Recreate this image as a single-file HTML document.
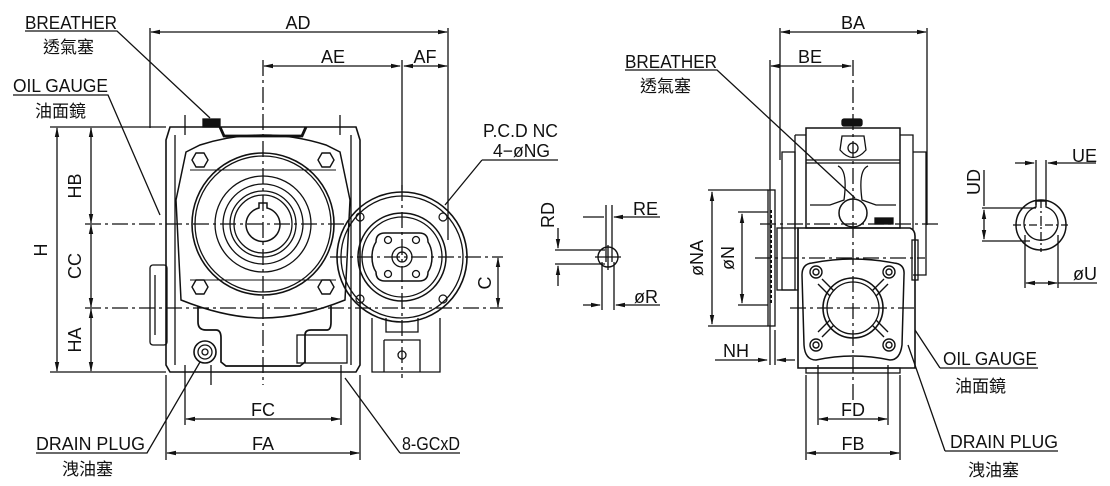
<!DOCTYPE html>
<html><head><meta charset="utf-8"><style>
html,body{margin:0;padding:0;background:#fff}
svg{display:block}
text{font-family:"Liberation Sans","Noto Sans CJK TC",sans-serif;fill:#111}
.t{font-size:18px}
.c{font-size:17px}
</style></head><body>
<svg width="1110" height="486" viewBox="0 0 1110 486" xmlns="http://www.w3.org/2000/svg">
<defs>
<marker id="a" markerWidth="10" markerHeight="6" refX="9" refY="3" orient="auto-start-reverse" markerUnits="userSpaceOnUse"><path d="M0,0.8 L10,3 L0,5.2z" fill="#111"/></marker>
</defs>
<g stroke="#111" stroke-width="1.3" fill="none">
<line x1="150" y1="28" x2="150" y2="128"/>
<line x1="448" y1="28" x2="448" y2="240"/>
<line x1="402" y1="60" x2="402" y2="190"/>
<line x1="151" y1="32" x2="447" y2="32" marker-start="url(#a)" marker-end="url(#a)"/>
<line x1="264" y1="66" x2="400" y2="66" marker-start="url(#a)" marker-end="url(#a)"/>
<line x1="404" y1="66" x2="447" y2="66" marker-start="url(#a)" marker-end="url(#a)"/>
<line x1="50" y1="127" x2="166" y2="127"/>
<line x1="50" y1="372" x2="166" y2="372"/>
<line x1="57" y1="128" x2="57" y2="371" marker-start="url(#a)" marker-end="url(#a)"/>
<line x1="91" y1="128" x2="91" y2="223" marker-start="url(#a)" marker-end="url(#a)"/>
<line x1="91" y1="225" x2="91" y2="307" marker-start="url(#a)" marker-end="url(#a)"/>
<line x1="91" y1="309" x2="91" y2="371" marker-start="url(#a)" marker-end="url(#a)"/>
<line x1="85" y1="224" x2="350" y2="224" stroke-dasharray="16,4,3,4"/>
<line x1="85" y1="308" x2="503" y2="308" stroke-dasharray="16,4,3,4"/>
<line x1="330" y1="257" x2="503" y2="257" stroke-dasharray="16,4,3,4"/>
<line x1="263" y1="60" x2="263" y2="385" stroke-dasharray="16,4,3,4"/>
<line x1="402" y1="185" x2="402" y2="378" stroke-dasharray="16,4,3,4"/>
<line x1="498" y1="258" x2="498" y2="307" marker-start="url(#a)" marker-end="url(#a)"/>
<path d="M170,127 L356,127 L360,140 L360,365 L356,372 L170,372 L166,365 L166,140 Z" stroke-width="1.6"/>
<path d="M175,135 L175,365 M351,135 L351,365"/>
<path d="M220,127 L224,136 L302,136 L306,127" stroke-width="2.8"/>
<rect x="203" y="119" width="17" height="8" fill="#111"/>
<path d="M186,152 L200,145 Q263,125 326,145 L340,152 L350,200 L345,300 Q300,318 263,318 Q226,318 181,300 L176,200 Z" stroke-width="1.5"/>
<path d="M190,170 L336,170 M190,280 L336,280" stroke-width="1"/>
<circle cx="263" cy="224" r="71" stroke-width="1.6"/>
<circle cx="263" cy="224" r="68"/>
<circle cx="263" cy="224" r="48"/>
<circle cx="263" cy="224" r="40"/>
<circle cx="263" cy="224" r="33"/>
<circle cx="263" cy="224" r="29"/>
<path d="M259,208 L259,203 L267,203 L267,208 A17,17 0 1 1 259,208 Z" stroke-width="1.5"/>
<g stroke-width="1.4">
<polygon points="192,160 196,153 204,153 208,160 204,167 196,167"/>
<polygon points="318,160 322,153 330,153 334,160 330,167 322,167"/>
<polygon points="192,287 196,280 204,280 208,287 204,294 196,294"/>
<polygon points="318,287 322,280 330,280 334,287 330,294 322,294"/>
</g>
<path d="M198,306 L198,322 Q198,330 206,330 L216,330 Q221,330 221,338 L221,362 L226,366 L300,366 L305,362 L305,335 Q305,330 311,330 L327,330 Q331,330 331,322 L331,306" stroke-width="1.7"/>
<rect x="297" y="335" width="50" height="28"/>
<circle cx="205" cy="352" r="11" stroke-width="1.6"/>
<circle cx="205" cy="352" r="7"/>
<circle cx="205" cy="352" r="3"/>
<rect x="150" y="265" width="17" height="80" rx="3"/>
<path d="M155,275 L155,335"/>
<path d="M185,115 L185,135 M340,115 L340,135 M185,365 L185,385 M211,365 L211,385 M341,365 L341,385"/>
<circle cx="402" cy="257" r="65" stroke-width="1.6"/>
<circle cx="402" cy="257" r="61"/>
<circle cx="402" cy="257" r="44" stroke-width="1.5"/>
<circle cx="402" cy="257" r="40"/>
<path d="M385,233 L419,233 Q428,233 428,242 Q432,248 432,257 Q432,266 428,272 Q428,281 419,281 L385,281 Q376,281 376,272 Q372,266 372,257 Q372,248 376,242 Q376,233 385,233 Z" stroke-width="1.5"/>
<circle cx="388" cy="240" r="3.5"/><circle cx="416" cy="240" r="3.5"/>
<circle cx="388" cy="274" r="3.5"/><circle cx="416" cy="274" r="3.5"/>
<circle cx="402" cy="257" r="10"/><circle cx="402" cy="257" r="5"/>
<g stroke-width="1.2"><circle cx="360" cy="217" r="4"/><circle cx="443" cy="217" r="4"/><circle cx="360" cy="299" r="4"/><circle cx="443" cy="299" r="4"/></g>
<path d="M372,318 L372,372 L440,372 L440,318 M386,318 L386,332 L418,332 L418,318 M384,340 L420,340 L420,372 M384,340 L384,372"/>
<circle cx="402" cy="355" r="4"/>
<line x1="166" y1="375" x2="166" y2="460"/>
<line x1="360" y1="375" x2="360" y2="460"/>
<line x1="185" y1="385" x2="185" y2="425"/>
<line x1="341" y1="385" x2="341" y2="425"/>
<line x1="186" y1="419" x2="340" y2="419" marker-start="url(#a)" marker-end="url(#a)"/>
<line x1="167" y1="453" x2="359" y2="453" marker-start="url(#a)" marker-end="url(#a)"/>
<path d="M25,31 L117,31 L210,118"/>
<path d="M13,95 L108,95 L160,215"/>
<path d="M36,453 L147,453 L200,362"/>
<path d="M400,453 L460,453 M400,453 L345,378"/>
<path d="M482,160 L558,160 M482,160 L445,205"/>
<path d="M583,217 L604,217 M660,217 L614,217" marker-end="url(#a)"/>
<line x1="606" y1="205" x2="606" y2="262"/><line x1="612" y1="205" x2="612" y2="262"/>
<circle cx="608" cy="257" r="10" stroke-width="1.4"/>
<path d="M595,257 L621,257 M608,245 L608,270"/>
<line x1="555" y1="250" x2="605" y2="250"/><line x1="555" y1="264" x2="605" y2="264"/>
<path d="M558,228 L558,248" marker-end="url(#a)"/><path d="M558,286 L558,266" marker-end="url(#a)"/>
<line x1="602" y1="262" x2="602" y2="310"/><line x1="614" y1="262" x2="614" y2="310"/>
<path d="M583,305 L600,305" marker-end="url(#a)"/><path d="M660,305 L616,305" marker-end="url(#a)"/>
<line x1="780" y1="28" x2="780" y2="160"/>
<line x1="927" y1="28" x2="927" y2="225"/>
<line x1="770" y1="60" x2="770" y2="365"/>
<line x1="781" y1="32" x2="926" y2="32" marker-start="url(#a)" marker-end="url(#a)"/>
<line x1="771" y1="66" x2="851" y2="66" marker-start="url(#a)" marker-end="url(#a)"/>
<line x1="853" y1="60" x2="853" y2="400" stroke-dasharray="16,4,3,4"/>
<line x1="760" y1="224" x2="940" y2="224" stroke-dasharray="16,4,3,4"/>
<line x1="755" y1="258" x2="925" y2="258" stroke-dasharray="16,4,3,4"/>
<line x1="790" y1="308" x2="915" y2="308" stroke-dasharray="16,4,3,4"/>
<rect x="842" y="119" width="20" height="7" rx="2" fill="#111"/>
<rect x="806" y="128" width="94" height="100" stroke-width="1.5"/>
<path d="M795,135 L806,135 M795,135 L795,230 M900,135 L913,135 L913,230"/>
<path d="M782,152 L795,152 L795,290 L782,290 Z M913,152 L926,152 L926,275 L913,275"/>
<path d="M806,160 L900,160 M806,163 L900,163"/>
<path d="M842,136 L864,136 L866,150 Q853,165 840,150 Z"/>
<circle cx="853" cy="148" r="5"/>
<path d="M838,166 Q848,170 844,200 L830,205 L810,205 M868,166 Q858,170 862,200 L876,205 L896,205"/>
<circle cx="853" cy="213" r="14" stroke-width="1.5"/>
<rect x="875" y="218" width="18" height="6" fill="#111"/>
<rect x="768" y="190" width="7" height="136"/>
<line x1="771" y1="210" x2="771" y2="305" stroke-dasharray="3,2" stroke-width="2"/>
<rect x="777" y="228" width="21" height="62"/>
<path d="M708,190 L768,190 M708,326 L768,326 M738,212 L768,212 M738,305 L768,305"/>
<line x1="712" y1="192" x2="712" y2="324" marker-start="url(#a)" marker-end="url(#a)"/>
<line x1="742" y1="214" x2="742" y2="303" marker-start="url(#a)" marker-end="url(#a)"/>
<path d="M798,228 L910,228 Q915,230 915,236 L915,368 L798,368 Z" stroke-width="1.6"/>
<rect x="806" y="368" width="94" height="5"/>
<rect x="912" y="240" width="6" height="40"/>
<path d="M812,263 Q853,255 894,263 Q905,264 904,275 L902,345 Q900,360 890,360 Q853,352 816,360 Q805,360 804,345 L802,275 Q802,264 812,263 Z" stroke-width="1.5"/>
<circle cx="853" cy="308" r="30" stroke-width="1.6"/>
<circle cx="853" cy="308" r="26"/>
<path d="M822,279 L834,291 M884,279 L872,291 M822,337 L834,325 M884,337 L872,325 M818,284 L830,296 M888,284 L876,296 M818,332 L830,320 M888,332 L876,320" stroke-width="1.4"/>
<g stroke-width="1.4"><circle cx="816" cy="272" r="6"/><circle cx="889" cy="272" r="6"/><circle cx="816" cy="345" r="6"/><circle cx="889" cy="345" r="6"/>
<circle cx="816" cy="272" r="3"/><circle cx="889" cy="272" r="3"/><circle cx="816" cy="345" r="3"/><circle cx="889" cy="345" r="3"/></g>
<line x1="775" y1="330" x2="775" y2="365"/>
<path d="M715,360 L767,360" marker-end="url(#a)"/><path d="M795,360 L777,360" marker-end="url(#a)"/>
<line x1="806" y1="375" x2="806" y2="460"/><line x1="900" y1="375" x2="900" y2="460"/>
<line x1="818" y1="365" x2="818" y2="425"/><line x1="888" y1="365" x2="888" y2="425"/>
<line x1="819" y1="419" x2="887" y2="419" marker-start="url(#a)" marker-end="url(#a)"/>
<line x1="807" y1="453" x2="899" y2="453" marker-start="url(#a)" marker-end="url(#a)"/>
<path d="M625,70 L717,70 L855,198"/>
<path d="M940,368 L1038,368 M940,368 L915,330"/>
<path d="M945,451 L1058,451 M945,451 L908,345"/>
<circle cx="1041" cy="225" r="25" stroke-width="1.5"/>
<path d="M1036,207 L1036,201 L1046,201 L1046,207 A17,17 0 1 1 1036,207 Z" stroke-width="1.4"/>
<path d="M1013,225 L1068,225 M1041,200 L1041,252" stroke-dasharray="8,3,2,3"/>
<line x1="1036" y1="160" x2="1036" y2="205"/><line x1="1046" y1="160" x2="1046" y2="205"/>
<path d="M1015,163 L1034,163" marker-end="url(#a)"/><path d="M1096,163 L1048,163" marker-end="url(#a)"/>
<line x1="982" y1="208" x2="1036" y2="208"/><line x1="982" y1="241" x2="1030" y2="241"/>
<line x1="984" y1="170" x2="984" y2="206"/>
<line x1="984" y1="210" x2="984" y2="239" marker-start="url(#a)" marker-end="url(#a)"/>
<line x1="1025" y1="235" x2="1025" y2="288"/><line x1="1058" y1="235" x2="1058" y2="288"/>
<path d="M1026,283 L1057,283" marker-start="url(#a)" marker-end="url(#a)"/>
<line x1="1058" y1="283" x2="1097" y2="283"/>
</g>
<g class="t">
<text x="25" y="29" textLength="92" lengthAdjust="spacingAndGlyphs">BREATHER</text>
<text x="13" y="92" textLength="95" lengthAdjust="spacingAndGlyphs">OIL GAUGE</text>
<text x="36" y="450" textLength="109" lengthAdjust="spacingAndGlyphs">DRAIN PLUG</text>
<text x="402" y="450" textLength="58" lengthAdjust="spacingAndGlyphs">8-GCxD</text>
<text x="298" y="29" text-anchor="middle">AD</text>
<text x="333" y="63" text-anchor="middle">AE</text>
<text x="425" y="63" text-anchor="middle">AF</text>
<text x="263" y="416" text-anchor="middle">FC</text>
<text x="263" y="450" text-anchor="middle">FA</text>
<text x="483" y="137" textLength="75" lengthAdjust="spacingAndGlyphs">P.C.D NC</text>
<text x="493" y="157" textLength="57" lengthAdjust="spacingAndGlyphs">4−øNG</text>
<text x="633" y="215">RE</text>
<text x="634" y="303">øR</text>
<text x="853" y="29" text-anchor="middle">BA</text>
<text x="810" y="63" text-anchor="middle">BE</text>
<text x="625" y="68" textLength="92" lengthAdjust="spacingAndGlyphs">BREATHER</text>
<text x="723" y="357">NH</text>
<text x="943" y="365" textLength="94" lengthAdjust="spacingAndGlyphs">OIL GAUGE</text>
<text x="950" y="448" textLength="108" lengthAdjust="spacingAndGlyphs">DRAIN PLUG</text>
<text x="853" y="416" text-anchor="middle">FD</text>
<text x="853" y="450" text-anchor="middle">FB</text>
<text x="1072" y="162">UE</text>
<text x="1073" y="280">øU</text>
<text transform="translate(81,186) rotate(-90)" text-anchor="middle">HB</text>
<text transform="translate(81,266) rotate(-90)" text-anchor="middle">CC</text>
<text transform="translate(81,340) rotate(-90)" text-anchor="middle">HA</text>
<text transform="translate(47,250) rotate(-90)" text-anchor="middle">H</text>
<text transform="translate(491,283) rotate(-90)" text-anchor="middle">C</text>
<text transform="translate(554,215) rotate(-90)" text-anchor="middle">RD</text>
<text transform="translate(703,258) rotate(-90)" text-anchor="middle">øNA</text>
<text transform="translate(734,258) rotate(-90)" text-anchor="middle">øN</text>
<text transform="translate(980,182) rotate(-90)" text-anchor="middle">UD</text>
</g>
<g class="c">
<text x="43" y="53">透氣塞</text>
<text x="35" y="117">油面鏡</text>
<text x="62" y="475">洩油塞</text>
<text x="640" y="92">透氣塞</text>
<text x="955" y="392">油面鏡</text>
<text x="968" y="476">洩油塞</text>
</g>
</svg>
</body></html>
